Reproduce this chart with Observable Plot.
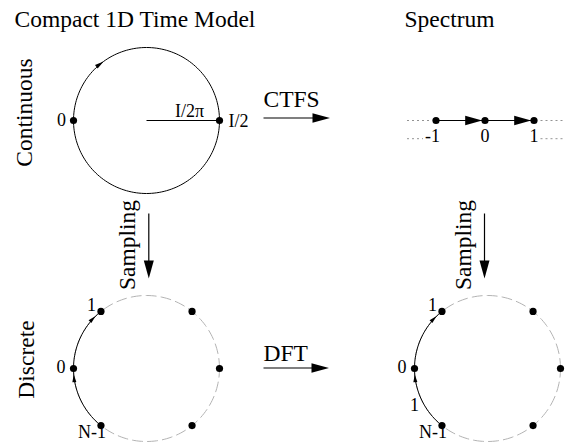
<!DOCTYPE html>
<html><head><meta charset="utf-8">
<script src="https://cdn.jsdelivr.net/npm/d3@7"></script>
<script src="https://cdn.jsdelivr.net/npm/@observablehq/plot@0.6"></script>
<style>body{margin:0;background:#fff} svg{display:block;background:#fff}</style>
</head><body><div id="chart"></div>
<script>
// ---- data ----
const panelTitles = ["Compact 1D Time Model", "Spectrum"];
const rowLabels = ["Continuous", "Discrete"];
const transformNames = ["CTFS", "DFT"];
const samplingLabel = "Sampling";
const continuousLabels = ["0", "I/2"];
const continuousAngles = [180, 0];
const radiusLabel = "I/2\u03C0";
const spectrumIndex = [-1, 0, 1];
const spectrumLabels = ["-1", "0", "1"];
const sampleAngles = [180, 128.6, 51.4, 0, -51.4, -128.6];
const sampleLabels = ["0", "1", "", "", "", "N-1"];
const stepLabel = "1";

// ---- layout ----
const FONT = "'Liberation Serif', 'Times New Roman', serif";
const BIG = 23.5, SMALL = 18;
const R = 73;
const TIME_CX = 146, FREQ_CX = 487, CONT_CY = 120, DISC_CY = 368;
const SPEC_X0 = 484.5, SPEC_DX = 49;

const rad = d => d * Math.PI / 180;
const onCircle = (cx, cy, a) => ({x: cx + R * Math.cos(rad(a)), y: cy - R * Math.sin(rad(a))});
const arcPts = (cx, cy, a0, a1, n = 60) => d3.range(n + 1).map(i => onCircle(cx, cy, a0 + (a1 - a0) * i / n));
const cwDir = a => Math.atan2(Math.cos(rad(a)), Math.sin(rad(a))) * 180 / Math.PI;
function head(angle, len, wid) {
  const ux = Math.cos(rad(angle)), uy = Math.sin(rad(angle));
  return {draw(ctx) {
    ctx.moveTo(0, 0);
    ctx.lineTo(-len * ux - wid / 2 * uy, -len * uy + wid / 2 * ux);
    ctx.lineTo(-len * ux + wid / 2 * uy, -len * uy - wid / 2 * ux);
    ctx.closePath();
  }};
}
const headMark = (p, angle, len, wid) =>
  Plot.dot([p], {x: "x", y: "y", symbol: head(angle, len, wid), fill: "black", stroke: "none"});
const txt = (d, o = {}) => Plot.text(d, {x: "x", y: "y", text: "t", fontFamily: FONT, fill: "black",
  lineAnchor: "bottom", fontSize: SMALL, ...o});
const bigArrow = (x1, y1, x2, y2, len, wid) => {
  const ang = Math.atan2(y2 - y1, x2 - x1) * 180 / Math.PI;
  const ux = Math.cos(rad(ang)), uy = Math.sin(rad(ang));
  return [
    Plot.link([{x1, y1, x2: x2 - ux * (len - 2), y2: y2 - uy * (len - 2)}], {x1: "x1", y1: "y1", x2: "x2", y2: "y2", stroke: "black", strokeWidth: 1.2}),
    headMark({x: x2, y: y2}, ang, len, wid)
  ];
};

const marks = [];
// titles
marks.push(txt([{x: 14, y: 26, t: panelTitles[0]}, {x: 404, y: 26, t: panelTitles[1]}], {textAnchor: "start", fontSize: BIG}));
// row labels (rotated)
marks.push(txt([{x: 31.5, y: 112, t: rowLabels[0]}, {x: 33, y: 359, t: rowLabels[1]}], {rotate: -90, textAnchor: "middle", fontSize: BIG}));
// transform labels and arrows
marks.push(txt([{x: 263, y: 106.5, t: transformNames[0]}, {x: 263, y: 360, t: transformNames[1]}], {textAnchor: "start", fontSize: BIG}));
marks.push(...bigArrow(263, 117.5, 329.5, 117.5, 17.5, 9.5));
marks.push(...bigArrow(263, 367.5, 328.5, 367.5, 17.5, 9.5));
// sampling arrows + labels
marks.push(...bigArrow(148.3, 213, 148.3, 278, 18, 10));
marks.push(...bigArrow(484, 213, 484, 278, 18, 10));
marks.push(txt([{x: 134.3, y: 244.5, t: samplingLabel}, {x: 470, y: 244.5, t: samplingLabel}], {rotate: -90, textAnchor: "middle", fontSize: BIG}));

// ---- continuous time circle ----
marks.push(Plot.line(arcPts(TIME_CX, CONT_CY, 0, 360, 180), {x: "x", y: "y", stroke: "black", strokeWidth: 1}));
const rEnd = onCircle(TIME_CX, CONT_CY, 0);
marks.push(Plot.link([{x1: TIME_CX, y1: CONT_CY, x2: rEnd.x, y2: rEnd.y}],
  {x1: "x1", y1: "y1", x2: "x2", y2: "y2", stroke: "black", strokeWidth: 1}));
marks.push(headMark(onCircle(TIME_CX, CONT_CY, 126), cwDir(126), 9, 4.5));
marks.push(Plot.dot(continuousAngles.map(a => onCircle(TIME_CX, CONT_CY, a)), {x: "x", y: "y", r: 3.6, fill: "black", stroke: "none"}));
marks.push(txt([{x: TIME_CX - 85, y: CONT_CY + 5, t: continuousLabels[0]}], {textAnchor: "middle"}));
marks.push(txt([{x: TIME_CX + 82, y: CONT_CY + 6, t: continuousLabels[1]}], {textAnchor: "start"}));
marks.push(txt([{x: TIME_CX + 43, y: CONT_CY - 4, t: radiusLabel}], {textAnchor: "middle"}));

// ---- spectrum line ----
const specX = k => SPEC_X0 + k * SPEC_DX;
const SY = 120, LY = 141.7;
for (let i = 0; i < spectrumIndex.length - 1; i++) {
  const xa = specX(spectrumIndex[i]), xb = specX(spectrumIndex[i + 1]);
  marks.push(Plot.link([{x1: xa, y1: SY, x2: xb, y2: SY}], {x1: "x1", y1: "y1", x2: "x2", y2: "y2", stroke: "black", strokeWidth: 1}));
  marks.push(headMark({x: xb - 2.8, y: SY}, 0, 17, 9.5));
}
const first = specX(spectrumIndex[0]), last = specX(spectrumIndex[spectrumIndex.length - 1]);
marks.push(Plot.link([
  {x1: first - 29, y1: SY, x2: first - 7, y2: SY},
  {x1: last + 6.5, y1: SY, x2: last + 29.5, y2: SY},
  {x1: first - 29, y1: LY - 3.5, x2: first - 13, y2: LY - 3.5},
  {x1: last + 6.5, y1: LY - 3.5, x2: last + 29.5, y2: LY - 3.5}
], {x1: "x1", y1: "y1", x2: "x2", y2: "y2", stroke: "#777", strokeWidth: 0.8, strokeDasharray: "2,3"}));
marks.push(Plot.dot(spectrumIndex.map(k => ({x: specX(k), y: SY})), {x: "x", y: "y", r: 3.6, fill: "black", stroke: "none"}));
marks.push(txt(spectrumIndex.map((k, i) => ({x: specX(k) - (k < 0 ? 3.5 : 0), y: LY, t: spectrumLabels[i]})), {textAnchor: "middle"}));

// ---- discrete circles ----
for (const cx of [TIME_CX, FREQ_CX]) {
  marks.push(Plot.line(arcPts(cx, DISC_CY, 0, 360, 180), {x: "x", y: "y", stroke: "#b3b3b3", strokeWidth: 1, strokeDasharray: "10,5"}));
  marks.push(Plot.line(arcPts(cx, DISC_CY, sampleAngles[5] + 360, sampleAngles[1]), {x: "x", y: "y", stroke: "black", strokeWidth: 1}));
  marks.push(headMark(onCircle(cx, DISC_CY, sampleAngles[0] + 4.5), cwDir(sampleAngles[0] + 4.5), 8, 4));
  marks.push(headMark(onCircle(cx, DISC_CY, sampleAngles[1] + 5.5), cwDir(sampleAngles[1] + 5.5), 8, 4));
  marks.push(Plot.dot(sampleAngles.map(a => onCircle(cx, DISC_CY, a)), {x: "x", y: "y", r: 3.6, fill: "black", stroke: "none"}));
  marks.push(txt([{x: cx - 85.5, y: DISC_CY + 4, t: sampleLabels[0]}, {x: cx - 54.5, y: DISC_CY + 69, t: sampleLabels[5]}], {textAnchor: "middle"}));
  marks.push(txt([{x: cx - 50.5, y: DISC_CY - 57.5, t: sampleLabels[1]}], {textAnchor: "end"}));
}
marks.push(txt([{x: FREQ_CX - 73, y: DISC_CY + 42, t: stepLabel}], {textAnchor: "middle"}));

const chart = Plot.plot({
  width: 571, height: 444, margin: 0,
  x: {domain: [0, 571], range: [0, 571]},
  y: {domain: [0, 444], range: [0, 444]},
  axis: null,
  style: {background: "#fff", overflow: "visible"},
  marks
});
document.getElementById("chart").appendChild(chart);
</script>
</body></html>
